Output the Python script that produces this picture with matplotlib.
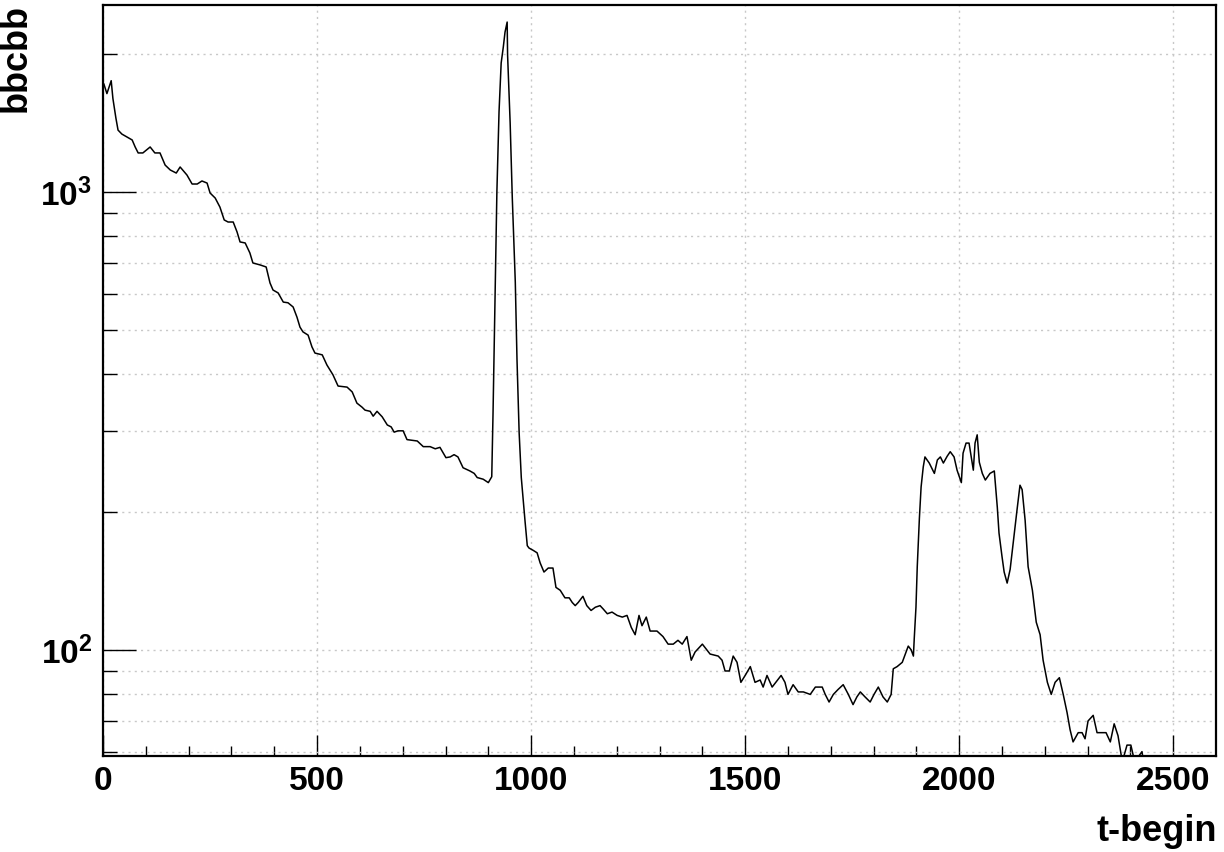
import numpy as np
import matplotlib
matplotlib.use('Agg')
import matplotlib.pyplot as plt
from matplotlib.ticker import FixedLocator, NullFormatter, FixedFormatter

plt.rcParams['font.family'] = ['Liberation Sans', 'DejaVu Sans']
plt.rcParams['font.weight'] = 'bold'
plt.rcParams['mathtext.fontset'] = 'custom'
plt.rcParams['mathtext.rm'] = 'Liberation Sans:bold'
plt.rcParams['mathtext.bf'] = 'Liberation Sans:bold'

# histogram outline: (t-begin, counts)
t_begin = [2, 9, 19, 23, 30, 35, 44, 56, 68, 75, 82, 93, 110, 121, 133, 145, 157, 171,
           180, 196, 208, 220, 231, 243, 250, 262, 273, 283, 292, 304, 313, 320, 332,
           343, 350, 367, 381, 390, 397, 409, 421, 432, 444, 453, 460, 467, 479, 488,
           495, 512, 523, 537, 549, 570, 582, 593, 605, 612, 624, 631, 640, 652, 664,
           673, 680, 689, 701, 710, 734, 748, 764, 776, 787, 801, 811, 820, 829, 841,
           857, 867, 874, 888, 900, 908, 911, 916, 920, 925, 930, 935, 939, 944, 945,
           951, 956, 963, 967, 972, 977, 981, 986, 991, 995, 1005, 1014, 1021, 1030,
           1040, 1051, 1058, 1068, 1079, 1089, 1096, 1103, 1110, 1121, 1130, 1140,
           1150, 1161, 1168, 1178, 1189, 1201, 1213, 1224, 1234, 1243, 1248, 1252,
           1259, 1269, 1278, 1294, 1308, 1320, 1332, 1343, 1353, 1364, 1374, 1383,
           1400, 1418, 1437, 1446, 1453, 1463, 1472, 1481, 1490, 1500, 1512, 1523,
           1535, 1542, 1551, 1563, 1584, 1593, 1600, 1612, 1624, 1636, 1652, 1664,
           1680, 1687, 1696, 1706, 1717, 1729, 1741, 1752, 1761, 1769, 1780, 1792,
           1801, 1811, 1822, 1832, 1841, 1846, 1855, 1867, 1876, 1881, 1888, 1893,
           1895, 1899, 1902, 1907, 1911, 1916, 1920, 1930, 1942, 1949, 1956, 1963,
           1972, 1979, 1988, 1995, 2005, 2009, 2016, 2023, 2030, 2033, 2037, 2042,
           2047, 2054, 2061, 2072, 2082, 2089, 2093, 2100, 2105, 2112, 2119, 2126,
           2135, 2142, 2147, 2154, 2161, 2171, 2180, 2189, 2196, 2206, 2215, 2224,
           2234, 2243, 2252, 2259, 2266, 2278, 2287, 2294, 2301, 2313, 2322, 2334,
           2343, 2353, 2362, 2371, 2381, 2392, 2401, 2410, 2427, 2440]
counts = [1720, 1640, 1750, 1600, 1450, 1365, 1338, 1318, 1299, 1254, 1217, 1217, 1254,
          1217, 1217, 1145, 1117, 1100, 1134, 1089, 1041, 1041, 1057, 1046, 995, 970,
          927, 869, 860, 860, 818, 778, 774, 736, 700, 693, 686, 633, 611, 602, 575,
          573, 561, 533, 507, 495, 487, 459, 445, 441, 419, 399, 377, 375, 366, 346,
          339, 334, 332, 324, 332, 323, 310, 307, 299, 301, 301, 288, 286, 278, 278,
          275, 277, 263, 264, 267, 264, 250, 246, 243, 238, 236, 232, 239, 329, 601,
          1000, 1496, 1913, 2073, 2234, 2350, 1991, 1415, 970, 636, 430, 298, 238,
          215, 190, 169, 167, 165, 163, 155, 148, 151, 151, 137, 135, 130, 130, 127,
          125, 127, 131, 125, 122, 124, 125, 123, 120, 121, 119, 118, 119, 112, 108,
          114, 119, 113, 118, 110, 110, 107, 103, 103, 105, 103, 107, 95, 99, 103, 98,
          97, 95, 90, 90, 97, 94, 85, 88, 92, 85, 86, 83, 88, 83, 88, 85, 80, 84, 81,
          81, 80, 83, 83, 80, 77, 80, 82, 84, 80, 76, 79, 81, 79, 77, 80, 83, 79, 77,
          80, 91, 92, 94, 99, 102, 100, 97, 106, 124, 152, 194, 227, 251, 264, 256,
          243, 260, 264, 256, 265, 271, 264, 247, 232, 269, 283, 283, 257, 247, 283,
          295, 257, 243, 235, 243, 246, 205, 180, 160, 148, 140, 150, 171, 202, 229,
          224, 192, 152, 135, 115, 108, 95, 85, 80, 85, 87, 80, 73, 67, 63, 66, 66, 64,
          70, 72, 66, 66, 66, 63, 69, 65, 57, 62, 62, 57, 60, 50]

x_major = [0, 500, 1000, 1500, 2000, 2500]
x_minor = list(range(100, 2600, 100))
y_major = [100, 1000]
y_minor = [60, 70, 80, 90, 200, 300, 400, 500, 600, 700, 800, 900, 2000]

fig = plt.figure(figsize=(12.24, 8.52), dpi=100)
ax = fig.add_axes([0.0842, 0.1127, 0.9093, 0.8814])

ax.plot(t_begin, counts, color='black', lw=1.1, clip_on=True)

ax.set_yscale('log')
ax.set_xlim(0, 2600)
ax.set_ylim(58.7, 2560)

ax.xaxis.set_major_locator(FixedLocator(x_major))
ax.xaxis.set_minor_locator(FixedLocator(x_minor))
ax.set_xticklabels([str(v) for v in x_major])
ax.yaxis.set_major_locator(FixedLocator(y_major))
ax.yaxis.set_minor_locator(FixedLocator(y_minor))
ax.yaxis.set_major_formatter(FixedFormatter([r'$\mathbf{10^{2}}$', r'$\mathbf{10^{3}}$']))
ax.yaxis.set_minor_formatter(NullFormatter())

ax.tick_params(axis='both', which='both', direction='in', top=False, right=False,
               colors='black', labelsize=24)
ax.tick_params(axis='x', which='major', length=15, width=1, pad=7)
ax.tick_params(axis='x', which='minor', length=7.5, width=1)
ax.tick_params(axis='y', which='major', length=24, width=1, pad=8)
ax.tick_params(axis='y', which='minor', length=10, width=1)
for lab in ax.get_xticklabels() + ax.get_yticklabels():
    lab.set_fontweight('bold')

ax.grid(True, which='major', axis='x', color='#c8c8c8', linestyle=(0, (1.5, 3)), lw=1)
ax.grid(True, which='both', axis='y', color='#c8c8c8', linestyle=(0, (1.5, 3)), lw=1)
ax.set_axisbelow(True)

for sp in ax.spines.values():
    sp.set_linewidth(1.6)

fig.text(0.013, 0.995, 'bbcbb', rotation=90, ha='center', va='top',
         fontsize=26, fontweight='bold')
fig.text(0.994, 0.013, 't-begin', ha='right', va='baseline',
         fontsize=26, fontweight='bold')

fig.savefig('out.png', dpi=100)
